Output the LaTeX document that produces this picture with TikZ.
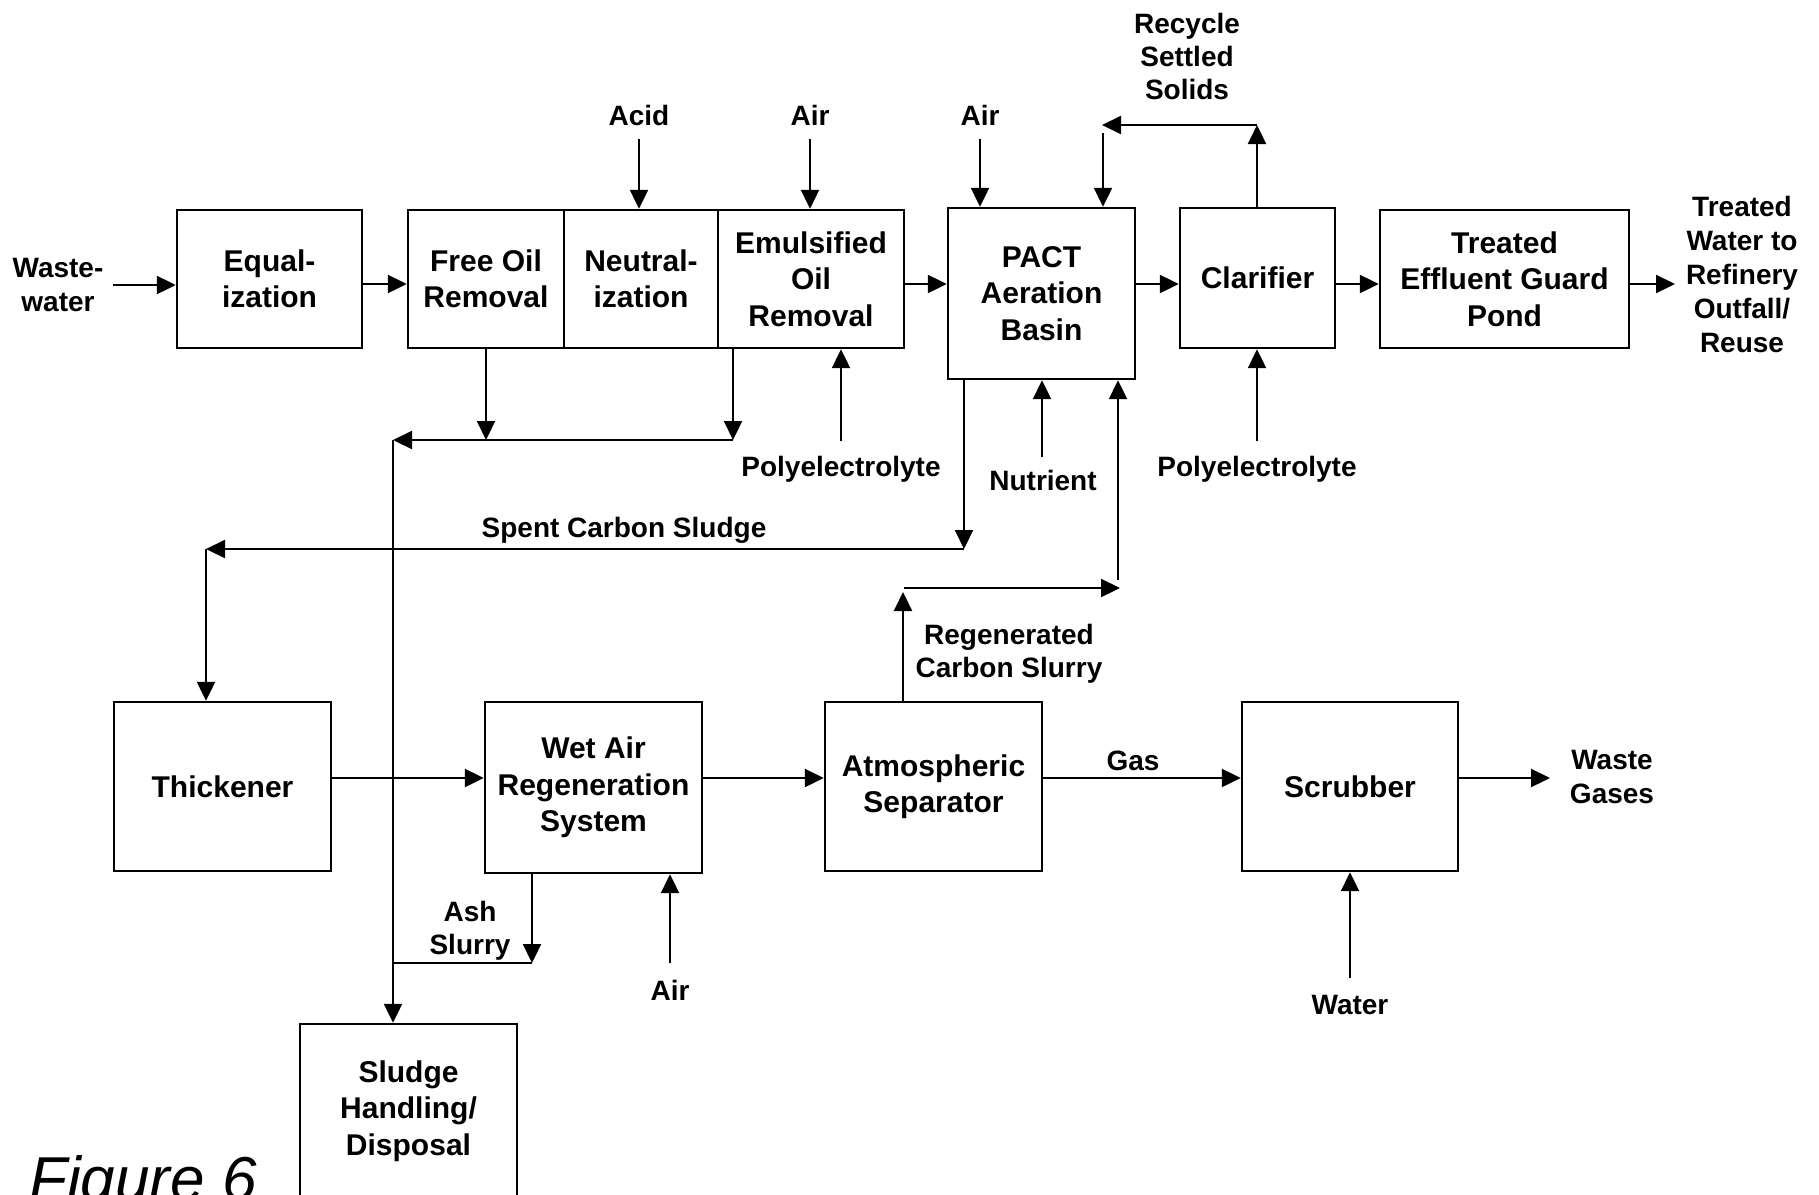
\documentclass[tikz,border=0pt]{standalone}
\usepackage{fontspec}
\setmainfont{Liberation Sans}
\usetikzlibrary{arrows.meta,calc}
\newcommand{\bxfont}{\fontsize{30}{36.5}\selectfont\bfseries}
\newcommand{\lbfont}{\fontsize{28}{34}\selectfont\bfseries}
\newcommand{\lbsfont}{\fontsize{28}{33}\selectfont\bfseries}
\begin{document}
\begin{tikzpicture}[x=1pt,y=-1pt,
  box/.style={draw, line width=2.4pt, inner sep=0pt, align=center, font=\bxfont},
  lbl/.style={inner sep=0pt, align=center, font=\lbfont},
  arr/.style={line width=2.2pt, -{Triangle[length=19pt,width=18pt]}},
  ln/.style={line width=2.2pt}]
\useasboundingbox (0,0) rectangle (1819,1194);
\clip (0,0) rectangle (1819,1194);
\fill[white] (0,0) rectangle (1819,1194);

% boxes
\node[box, minimum width=185pt, minimum height=138pt] (eq) at (269.5,279) {Equal-\\ization};
\node[box, minimum width=156pt, minimum height=138pt] (fo) at (486,279) {Free Oil\\Removal};
\node[box, minimum width=154pt, minimum height=138pt] (ne) at (641,279) {Neutral-\\ization};
\node[box, minimum width=186pt, minimum height=138pt] (em) at (811,279) {Emulsified\\Oil\\Removal};
\node[box, minimum width=187pt, minimum height=171pt] (pact) at (1041.5,293.5) {PACT\\Aeration\\Basin};
\node[box, minimum width=155pt, minimum height=140pt] (cl) at (1257.5,278) {Clarifier};
\node[box, minimum width=249pt, minimum height=138pt] (pond) at (1504.5,279) {Treated\\Effluent Guard\\Pond};
\node[box, minimum width=217pt, minimum height=169pt] (thick) at (222.5,786.5) {Thickener};
\node[box, minimum width=217pt, minimum height=171pt] (war) at (593.5,787.5) {Wet Air\\Regeneration\\System};
\node[box, minimum width=217pt, minimum height=169pt] (atm) at (933.5,786.5) {Atmospheric\\Separator};
\node[box, minimum width=216pt, minimum height=169pt] (scr) at (1350,786.5) {Scrubber};
\node[box, minimum width=217pt, minimum height=174pt] (sludge) at (408.5,1111) {Sludge\\Handling/\\Disposal};

% labels
\node[lbl] (ww) at (58,285) {Waste-\\water};
\node[lbl] (acid) at (639,115) {Acid};
\node[lbl] (air1) at (810,115) {Air};
\node[lbl] (air2) at (980,115) {Air};
\node[lbl, font=\lbsfont] (rss) at (1187,56) {Recycle\\Settled\\Solids};
\node[lbl] (poly1) at (841,469) {Polyelectrolyte};
\node[lbl] (nutr) at (1043,480) {Nutrient};
\node[lbl] (poly2) at (1257,469) {Polyelectrolyte};
\node[lbl] (scs) at (624,530) {Spent Carbon Sludge};
\node[lbl, font=\lbsfont] (rcs) at (1009,654) {Regenerated\\Carbon Slurry};
\node[lbl] (gas) at (1133,761) {Gas};
\node[lbl] (wg) at (1612,777) {Waste\\Gases};
\node[lbl, font=\lbsfont] (ash) at (470,931) {Ash\\Slurry};
\node[lbl] (air3) at (670,990) {Air};
\node[lbl] (water) at (1350,1005) {Water};
\node[lbl] (tw) at (1742,274) {Treated\\Water to\\Refinery\\Outfall/\\Reuse};
\node[inner sep=0pt, anchor=base west, font=\fontsize{62}{64}\selectfont\itshape] (fig) at (29,1200) {Figure 6};

% coordinates
\coordinate (r1) at (0,284);
\coordinate (r2) at (0,778);
\coordinate (wwA) at (113,285);
\coordinate (outA) at (1675,284);
\coordinate (acidA) at (639,139);
\coordinate (air1A) at (810,139);
\coordinate (air2A) at (980,139);
\coordinate (rec1) at (1257,125);
\coordinate (rec2) at (1102,125);
\coordinate (rec3) at (1103,133);
\coordinate (p1) at (841,441);
\coordinate (p2) at (1257,441);
\coordinate (j1) at (486,440);
\coordinate (j2) at (733,440);
\coordinate (j3) at (393,440);
\coordinate (k1) at (964,549);
\coordinate (k2) at (206,549);
\coordinate (nA) at (1042,457);
\coordinate (g1) at (903,592);
\coordinate (g2) at (904,588);
\coordinate (g3) at (1120,588);
\coordinate (g4) at (1118,580);
\coordinate (wgA) at (1550,778);
\coordinate (waterA) at (1350,978);
\coordinate (air3A) at (670,963);
\coordinate (a1) at (532,963);

% top row flow
\draw[arr] (wwA) -- (wwA -| eq.west);
\draw[arr] (eq.east |- r1) -- (fo.west |- r1);
\draw[arr] (em.east |- r1) -- (pact.west |- r1);
\draw[arr] (pact.east |- r1) -- (cl.west |- r1);
\draw[arr] (cl.east |- r1) -- (pond.west |- r1);
\draw[arr] (pond.east |- r1) -- (outA);
\draw[arr] (acidA) -- (acidA |- ne.north);
\draw[arr] (air1A) -- (air1A |- em.north);
\draw[arr] (air2A) -- (air2A |- pact.north);
% recycle
\draw[arr] (rec1 |- cl.north) -- (rec1);
\draw[arr] (rec1) -- (rec2);
\draw[arr] (rec3) -- (rec3 |- pact.north);
% polyelectrolyte & nutrient
\draw[arr] (p1) -- (p1 |- em.south);
\draw[arr] (p2) -- (p2 |- cl.south);
\draw[arr] (nA) -- (nA |- pact.south);
% oil removal sludge
\draw[arr] (j1 |- fo.south) -- (j1);
\draw[arr] (j2 |- em.south) -- (j2);
\draw[arr] (j2) -- (j3);
\draw[arr] (j3) -- (j3 |- sludge.north);
% spent carbon sludge
\draw[arr] (k1 |- pact.south) -- (k1);
\draw[arr] (k1) -- (k2);
\draw[arr] (k2) -- (k2 |- thick.north);
% regenerated carbon slurry
\draw[arr] (g1 |- atm.north) -- (g1);
\draw[arr] (g2) -- (g3);
\draw[arr] (g4) -- (g4 |- pact.south);
% lower row
\draw[arr] (thick.east |- r2) -- (war.west |- r2);
\draw[arr] (war.east |- r2) -- (atm.west |- r2);
\draw[arr] (atm.east |- r2) -- (scr.west |- r2);
\draw[arr] (scr.east |- r2) -- (wgA);
\draw[arr] (waterA) -- (waterA |- scr.south);
\draw[arr] (air3A) -- (air3A |- war.south);
% ash slurry
\draw[arr] (a1 |- war.south) -- (a1);
\draw[ln] (a1) -- (a1 -| j3);
\end{tikzpicture}
\end{document}
